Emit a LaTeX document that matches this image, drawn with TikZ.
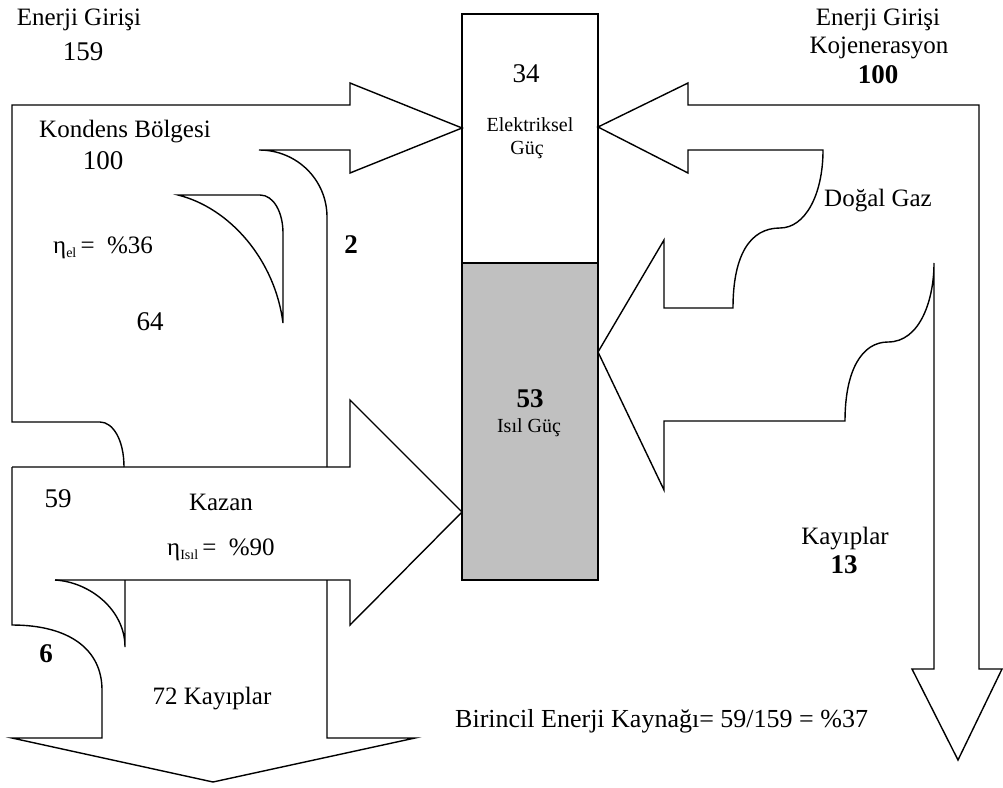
\documentclass[tikz,border=0pt]{standalone}
\usepackage{fontspec}
\setmainfont{Liberation Serif}
\definecolor{heatgray}{RGB}{192,192,192}
\begin{document}
\begin{tikzpicture}[x=1pt,y=-1pt,
  flow/.style={draw=black, line width=1.4pt, line join=miter},
  lbl/.style={anchor=base, inner sep=0pt, font=\fontsize{25}{30}\selectfont},
  num/.style={anchor=base, inner sep=0pt, font=\fontsize{27}{32}\selectfont},
  bnum/.style={anchor=base, inner sep=0pt, font=\fontsize{27}{32}\selectfont\bfseries},
  smalllbl/.style={anchor=base, inner sep=0pt, font=\fontsize{20}{24}\selectfont}]
\useasboundingbox (0,0) rectangle (1003,787);
\fill[white] (0,0) rectangle (1003,787);

% central column: electric power (white) and heat (grey)
\draw[flow, fill=white] (462,14) rectangle (598,263);
\draw[flow, fill=heatgray] (462,263) rectangle (598,580);

% separate production: condensing plant stream with loss branch "2"
\draw[flow] (124,467) .. controls (124,440) and (113,422) .. (100,422) -- (12,422)
  -- (12,105) -- (350,105) -- (350,83) -- (462,128) -- (350,173) -- (350,150)
  -- (259,150) .. controls (297,150) and (327,180) .. (327,217) -- (327,467);

% condensing loss wedge (64)
\draw[flow] (178,195) -- (260,195) .. controls (274,195) and (283,213) .. (283,233)
  -- (283,323) .. controls (275,260) and (230,208) .. (178,195) -- cycle;

% boiler stream
\draw[flow] (12,467) -- (350,467) -- (350,400) -- (462,512) -- (350,625) -- (350,580) -- (55,580);
\draw[flow] (12,467) -- (12,625) .. controls (70,625) and (102,650) .. (102,690)
  -- (102,738) -- (12,738) -- (213,782) -- (415,738) -- (327,738) -- (327,580);

% boiler loss wedge (6)
\draw[flow] (55,580) .. controls (90,582) and (125,610) .. (125,647) -- (125,580);

% cogeneration stream: electric, heat and losses
\draw[flow] (979,669) -- (979,105) -- (688,105) -- (688,83) -- (598,127) -- (688,173)
  -- (688,150) -- (823,150) .. controls (823,195) and (805,228) .. (780,228)
  .. controls (750,228) and (733,255) .. (733,308) -- (664,308) -- (664,240)
  -- (598,352) -- (664,490) -- (664,421) -- (845,421)
  .. controls (845,370) and (862,342) .. (888,342)
  .. controls (920,342) and (934,300) .. (934,263) -- (934,669) -- (912,669)
  -- (958,760) -- (1002,669) -- cycle;

% labels, left
\node[lbl] (inL) at (79,25) {Enerji Girişi};
\node[num] (inLv) at (83,60) {159};
\node[lbl] (cond) at (125,137) {Kondens Bölgesi};
\node[num] (condv) at (103,169) {100};
\node[lbl, anchor=base west] (etael) at (53,253)
  {η\raisebox{-4pt}{\fontsize{14}{14}\selectfont el}\,= \ \%36};
\node[num] (loss64) at (150,330) {64};
\node[bnum] (loss2) at (351,253) {2};
\node[num] (kazv) at (58,507) {59};
\node[lbl] (kazan) at (221,510) {Kazan};
\node[lbl, anchor=base west] (etaisil) at (167,555)
  {η\raisebox{-4pt}{\fontsize{14}{14}\selectfont Isıl}\,= \ \%90};
\node[bnum] (loss6) at (46,662) {6};
\node[lbl] (loss72) at (212,704) {72 Kayıplar};

% labels, centre
\node[num] (elv) at (526,82) {34};
\node[smalllbl] (el1) at (530,131) {Elektriksel};
\node[smalllbl] (el2) at (527,154) {Güç};
\node[bnum] (thv) at (530,407) {53};
\node[smalllbl] (th) at (529,432) {Isıl Güç};

% labels, right
\node[lbl] (inR) at (878,25) {Enerji Girişi};
\node[lbl] (cogen) at (879,53) {Kojenerasyon};
\node[bnum] (inRv) at (878,83) {100};
\node[lbl] (gas) at (878,206) {Doğal Gaz};
\node[lbl] (lossR) at (845,544) {Kayıplar};
\node[bnum] (lossRv) at (844,573) {13};
\node[anchor=base west, inner sep=0pt, font=\fontsize{26}{31}\selectfont] (primary) at (455,727)
  {Birincil Enerji Kaynağı= 59/159 = \%37};
\end{tikzpicture}
\end{document}
